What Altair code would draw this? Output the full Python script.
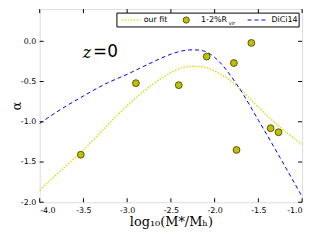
import altair as alt
import pandas as pd

# data
pts_x = [-3.53, -2.90, -2.41, -2.09, -1.78, -1.58, -1.75, -1.36, -1.27]
pts_y = [-1.41, -0.52, -0.545, -0.19, -0.27, -0.02, -1.35, -1.08, -1.13]

fit_x = [-4.0, -3.75, -3.5, -3.25, -3.0, -2.75, -2.5, -2.375, -2.25, -2.125, -2.0, -1.75, -1.5, -1.25, -1.0]
fit_y = [-1.85, -1.60, -1.35, -1.07, -0.80, -0.57, -0.39, -0.33, -0.31, -0.32, -0.37, -0.55, -0.82, -1.07, -1.28]

dc_x = [-4.0, -3.75, -3.5, -3.25, -3.0, -2.75, -2.5, -2.375, -2.25, -2.125, -2.0, -1.75, -1.5, -1.25, -1.0]
dc_y = [-1.02, -0.84, -0.68, -0.53, -0.41, -0.28, -0.16, -0.12, -0.105, -0.12, -0.20, -0.53, -0.98, -1.45, -1.93]

x_ticks = [-4.0, -3.5, -3.0, -2.5, -2.0, -1.5, -1.0]
y_ticks = [-2.0, -1.5, -1.0, -0.5, 0.0]

W, H = 265, 195
xs = alt.Scale(domain=[-4.0, -1.0], nice=False, zero=False)
ys = alt.Scale(domain=[-2.0, 0.4], nice=False, zero=False)

pts = pd.DataFrame({"x": pts_x, "y": pts_y})
fit = pd.DataFrame({"x": fit_x, "y": fit_y})
dc = pd.DataFrame({"x": dc_x, "y": dc_y})

lab = "replace(format(datum.value, '.1f'), '\u2212', '-')"

fit_line = alt.Chart(fit).mark_line(
    color="#d8d800", strokeDash=[1.5, 1.5], strokeWidth=1.3, interpolate="monotone"
).encode(
    x=alt.X("x:Q", scale=xs, axis=alt.Axis(values=x_ticks, labelExpr=lab, title="log\u2081\u2080(M*/M\u2095)",
                                          grid=False, ticks=False, domain=False, labelFontSize=8,
                                          labelColor="black", labelPadding=4, titleFont="DejaVu Serif",
                                          titleFontWeight="normal", titleFontSize=13, titleColor="black",
                                          titlePadding=2, labelFont="DejaVu Sans")),
    y=alt.Y("y:Q", scale=ys, axis=alt.Axis(values=y_ticks, labelExpr=lab, title="\u03b1",
                                          grid=False, ticks=False, domain=False, labelFontSize=8,
                                          labelColor="black", labelPadding=4, titleFont="DejaVu Serif",
                                          titleFontWeight="normal", titleFontSize=13, titleColor="black",
                                          titleX=-23, titleBaseline="middle",
                                          labelFont="DejaVu Sans")),
)

dc_line = alt.Chart(dc).mark_line(
    color="#0000ff", strokeDash=[4, 3], strokeWidth=1, interpolate="monotone"
).encode(x=alt.X("x:Q", scale=xs), y=alt.Y("y:Q", scale=ys))

points = alt.Chart(pts).mark_point(
    filled=True, fill="#bfbf00", stroke="#3a3a00", strokeWidth=0.8, size=48, opacity=1
).encode(x=alt.X("x:Q", scale=xs), y=alt.Y("y:Q", scale=ys))

xt = pd.DataFrame({"x": x_ticks})
yt = pd.DataFrame({"y": y_ticks})
tk = dict(color="black", strokeWidth=1)
ticks = [
    alt.Chart(xt).mark_rule(**tk).encode(x=alt.X("x:Q", scale=xs), y=alt.value(H), y2=alt.value(H - 4)),
    alt.Chart(xt).mark_rule(**tk).encode(x=alt.X("x:Q", scale=xs), y=alt.value(0), y2=alt.value(4)),
    alt.Chart(yt).mark_rule(**tk).encode(y=alt.Y("y:Q", scale=ys), x=alt.value(0), x2=alt.value(4)),
    alt.Chart(yt).mark_rule(**tk).encode(y=alt.Y("y:Q", scale=ys), x=alt.value(W), x2=alt.value(W - 4)),
]

# z = 0 annotation
ann = pd.DataFrame({"x": [-3.46], "y": [-0.14]})
ann2 = pd.DataFrame({"x": [-3.39], "y": [-0.13]})
z_txt = alt.Chart(ann).mark_text(text="z", font="DejaVu Serif", fontStyle="italic", fontSize=16,
                                 align="center", baseline="middle", color="black").encode(
    x=alt.X("x:Q", scale=xs), y=alt.Y("y:Q", scale=ys))
eq_txt = alt.Chart(ann2).mark_text(text="=0", font="DejaVu Sans", fontSize=17,
                                   align="left", baseline="middle", color="black").encode(
    x=alt.X("x:Q", scale=xs), y=alt.Y("y:Q", scale=ys))

# legend
one = pd.DataFrame({"a": [0]})
leg = [
    alt.Chart(one).mark_rect(fill="white", stroke="black", strokeWidth=1).encode(
        x=alt.value(78), x2=alt.value(262), y=alt.value(4), y2=alt.value(18)),
    alt.Chart(one).mark_rule(color="#d8d800", strokeDash=[1.5, 1.5], strokeWidth=1.3).encode(
        x=alt.value(83), x2=alt.value(102), y=alt.value(11)),
    alt.Chart(one).mark_text(text="our fit", fontSize=8, font="DejaVu Sans", align="left",
                             baseline="middle", color="black").encode(x=alt.value(105), y=alt.value(11)),
    alt.Chart(one).mark_point(filled=True, fill="#bfbf00", stroke="#3a3a00", strokeWidth=0.8,
                              size=40, opacity=1).encode(x=alt.value(148), y=alt.value(11)),
    alt.Chart(one).mark_text(text="1-2%R", fontSize=8, font="DejaVu Sans", align="left",
                             baseline="middle", color="black").encode(x=alt.value(163), y=alt.value(11)),
    alt.Chart(one).mark_text(text="vir", fontSize=5, font="DejaVu Sans", align="left",
                             baseline="middle", color="black").encode(x=alt.value(191), y=alt.value(14)),
    alt.Chart(one).mark_rule(color="#0000ff", strokeDash=[4, 3], strokeWidth=1).encode(
        x=alt.value(210), x2=alt.value(229), y=alt.value(11)),
    alt.Chart(one).mark_text(text="DiCi14", fontSize=8, font="DejaVu Sans", align="left",
                             baseline="middle", color="black").encode(x=alt.value(234), y=alt.value(11)),
]

chart = alt.layer(fit_line, dc_line, points, *ticks, z_txt, eq_txt, *leg).properties(
    width=W, height=H,
    autosize=alt.AutoSizeParams(type="none"),
    padding={"left": 32, "top": 0, "right": 10, "bottom": 37},
).configure_view(stroke="black", strokeWidth=1.2).configure(background="white")

chart.save("out.html", embed_options={"renderer": "svg", "actions": False})
